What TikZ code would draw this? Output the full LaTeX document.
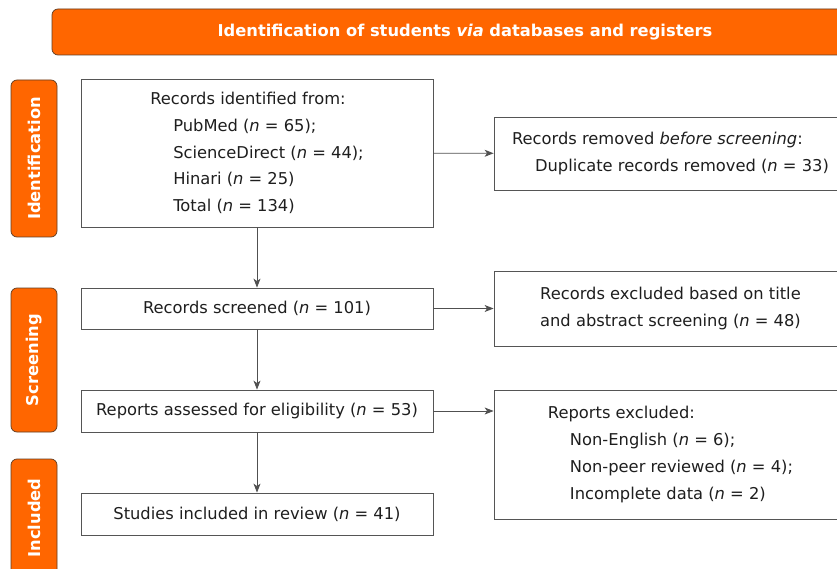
\documentclass[tikz,border=0pt]{standalone}
\usepackage{fontspec}
\setmainfont{DejaVu Sans}
\usetikzlibrary{arrows.meta}
\definecolor{prisma}{RGB}{255,102,0}
\definecolor{bandedge}{RGB}{95,60,35}
\definecolor{boxgray}{RGB}{85,85,85}
\definecolor{linegray}{RGB}{80,80,80}
\definecolor{inkgray}{RGB}{30,30,30}

\begin{document}
\begin{tikzpicture}[x=1pt,y=-1pt,
  font=\fontsize{16.3}{26.8}\selectfont,
  box/.style={draw=boxgray,line width=0.8pt,inner sep=0pt,minimum width=352pt,text=inkgray,align=left},
  band/.style={draw=bandedge,fill=prisma,rounded corners=6pt,line width=0.7pt,inner sep=0pt,text=white,font=\fontsize{16.3}{20}\selectfont\bfseries},
  link/.style={draw=linegray,line width=0.9pt,-{Stealth[length=9pt,width=7pt,inset=2.5pt]}}]
\useasboundingbox (0,0) rectangle (837,569);
\clip (0,0) rectangle (837,569);

% phase labels
\node[band,minimum width=826pt,minimum height=46pt] (title) at (465,32) {Identification of students \textit{via} databases and registers};
\node[band,rotate=90,minimum width=157pt,minimum height=46pt] (ident) at (34,158.5) {Identification};
\node[band,rotate=90,minimum width=144pt,minimum height=46pt] (screen) at (34,360) {Screening};
\node[band,rotate=90,minimum width=118pt,minimum height=46pt] (incl) at (34,518) {Included};

% main column
\node[box,minimum height=148pt] (found) at (257,153) {Records identified from:\\
  \hspace*{23pt}PubMed (\textit{n} = 65);\\
  \hspace*{23pt}ScienceDirect (\textit{n} = 44);\\
  \hspace*{23pt}Hinari (\textit{n} = 25)\\
  \hspace*{23pt}Total (\textit{n} = 134)};
\node[box,minimum height=41pt] (screened) at (257,308.5) {Records screened (\textit{n} = 101)};
\node[box,minimum height=42pt] (assessed) at (257,411) {Reports assessed for eligibility (\textit{n} = 53)};
\node[box,minimum height=42pt] (included) at (257,514) {Studies included in review (\textit{n} = 41)};

% side column
\node[box,minimum width=353pt,minimum height=73pt] (removed) at (670.5,153.5) {Records removed \textit{before screening}:\\
  \hspace*{23pt}Duplicate records removed (\textit{n} = 33)};
\node[box,minimum width=353pt,minimum height=75pt,align=center] (excl1) at (670.5,308.5) {Records excluded based on title\\
  and abstract screening (\textit{n} = 48)};
\node[box,minimum width=353pt,minimum height=129pt] (excl2) at (670.5,454.5) {Reports excluded:\\
  \hspace*{22pt}Non-English (\textit{n} = 6);\\
  \hspace*{22pt}Non-peer reviewed (\textit{n} = 4);\\
  \hspace*{22pt}Incomplete data (\textit{n} = 2)};

% arrows
\draw[link] (found) -- (screened);
\draw[link] (screened) -- (assessed);
\draw[link] (assessed) -- (included);
\draw[link] (found) -- (removed);
\draw[link] (screened) -- (excl1);
\draw[link] (assessed.east) -- (assessed.east -| excl2.west);
\end{tikzpicture}
\end{document}
